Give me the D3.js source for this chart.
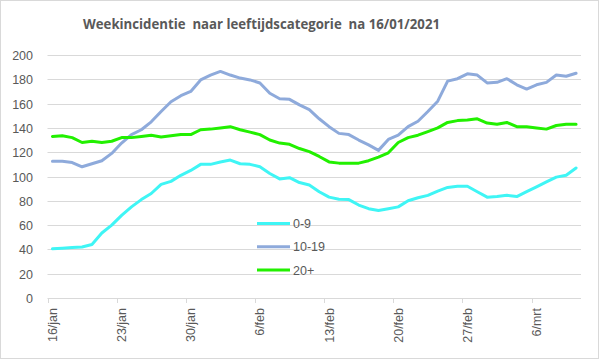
<!DOCTYPE html>
<html><head><meta charset="utf-8">
<script src="https://cdn.jsdelivr.net/npm/d3@7"></script>
<style>body{margin:0;background:#fff}svg{display:block}</style>
</head><body>
<script>
const categories = ["16/jan","17/jan","18/jan","19/jan","20/jan","21/jan","22/jan","23/jan","24/jan","25/jan","26/jan","27/jan","28/jan","29/jan","30/jan","31/jan",
"1/feb","2/feb","3/feb","4/feb","5/feb","6/feb","7/feb","8/feb","9/feb","10/feb","11/feb","12/feb","13/feb","14/feb","15/feb","16/feb","17/feb","18/feb","19/feb","20/feb","21/feb","22/feb","23/feb","24/feb","25/feb","26/feb","27/feb","28/feb",
"1/mrt","2/mrt","3/mrt","4/mrt","5/mrt","6/mrt","7/mrt","8/mrt","9/mrt","10/mrt"];
const tickLabels = ["16/jan","23/jan","30/jan","6/feb","13/feb","20/feb","27/feb","6/mrt"];
const yTicks = [0,20,40,60,80,100,120,140,160,180,200];
const age0_9 = [40.5,41,41.5,42,44,53.5,60,68,75,81,86,93.5,96,101,105,110,110,112,113.5,110.5,110,108,102.5,98,99,95,93,87.5,83,81.3,81,76.5,73.5,72,73.5,75,80,82.5,84.5,88,91,92,92,87.5,83,83.5,84.5,83.5,87.5,91.5,95.5,99.5,101,107];
const age10_19 = [112.5,112.5,111.5,108,110.5,113,119,127.5,134.5,138.5,145,153.5,161.5,166.5,170,179.5,183.5,186.5,183.5,181,179.5,177,168.5,164,163.5,159,155,147.5,141,135.5,134.5,130,126,121.5,130.5,134,141,145.5,153.5,162,178.5,180.5,184.5,183.5,177,177.5,180.5,175.5,172,175.5,177.5,183.5,182.5,185];
const age20plus = [133,133.5,132,128,129,128,129,132,132,133,134,132.5,133.5,134.5,134.5,138.5,139,140,141,138.5,136.5,134.5,130,127.5,126.5,123,120.5,116.5,112,111,111,111,113,116,119.5,128,132,134,137,140,144.5,146,146.5,147.5,144,143,144.5,141,141,140,139,142,143,143];
const seriesNames = ["0-9","10-19","20+"];
const seriesColors = ["#3ff5f5","#8eaadb","#22f000"];
const seriesData = [age0_9, age10_19, age20plus];

const W = 599, H = 359;
const svg = d3.select("body").append("svg").attr("width", W).attr("height", H);
svg.append("rect").attr("x",0.5).attr("y",0.5).attr("width",W-1).attr("height",H-1)
  .attr("fill","#fff").attr("stroke","#d9d9d9");

const x = d3.scaleBand().domain(categories).range([47.5, 581]).padding(0);
const y = d3.scaleLinear().domain([0,200]).range([298, 55]);
const font = "'Liberation Sans', Arial, sans-serif";

// gridlines
svg.append("g").selectAll("line").data(yTicks.filter(d=>d>0)).join("line")
  .attr("x1",47.5).attr("x2",581).attr("y1",d=>Math.round(y(d))+0.5).attr("y2",d=>Math.round(y(d))+0.5)
  .attr("stroke","#d9d9d9").attr("stroke-width",1);

// y labels
const yAxis = d3.axisLeft(y).tickValues(yTicks).tickSize(0).tickPadding(0);
const gy = svg.append("g").attr("transform","translate(33,0)").call(yAxis);
gy.select(".domain").remove();
gy.selectAll("text").attr("font-family",font).attr("font-size",12.5).attr("fill","#595959").attr("dy","0.36em");

// x axis
const tickIdx = tickLabels.map(t => categories.indexOf(t));
svg.append("line").attr("x1",47.5).attr("x2",581).attr("y1",298.5).attr("y2",298.5).attr("stroke","#d9d9d9");
svg.append("g").selectAll("line").data(tickIdx.concat([categories.length])).join("line")
  .attr("x1",i=> i<categories.length ? Math.round(x(categories[i]))+0.5 : 581.5)
  .attr("x2",i=> i<categories.length ? Math.round(x(categories[i]))+0.5 : 581.5)
  .attr("y1",298.5).attr("y2",303).attr("stroke","#d9d9d9")
  .attr("display",(i)=> i<categories.length ? null : "none");
svg.append("g").selectAll("text").data(tickLabels).join("text")
  .attr("transform",d=>`translate(${x(d)+x.bandwidth()/2+4.5},308) rotate(-90)`)
  .attr("text-anchor","end")
  .attr("font-family",font).attr("font-size",12.5).attr("fill","#595959")
  .text(d=>d);

// lines
const line = d3.line().x((d,i)=>x(categories[i])+x.bandwidth()/2).y(d=>y(d));
seriesData.forEach((s,k)=>{
  svg.append("path").datum(s).attr("d",line).attr("fill","none")
    .attr("stroke",seriesColors[k]).attr("stroke-width",3).attr("stroke-linejoin","round").attr("stroke-linecap","round");
});

// legend
const lg = svg.append("g");
seriesNames.forEach((n,k)=>{
  const ly = 223.5 + k*23.3;
  lg.append("line").attr("x1",257).attr("x2",290).attr("y1",ly).attr("y2",ly)
    .attr("stroke",seriesColors[k]).attr("stroke-width",3);
  lg.append("text").attr("x",293).attr("y",ly+4.5).attr("font-family",font).attr("font-size",12.5)
    .attr("fill","#595959").text(n);
});

// title
svg.append("text").attr("x",83).attr("y",29).attr("font-family","'Open Sans', sans-serif")
  .attr("font-weight","bold").attr("font-size",13.5).attr("fill","#595959")
  .attr("textLength",357).attr("lengthAdjust","spacingAndGlyphs")
  .style("white-space","pre")
  .text("Weekincidentie  naar leeftijdscategorie  na 16/01/2021");
</script>
</body></html>
